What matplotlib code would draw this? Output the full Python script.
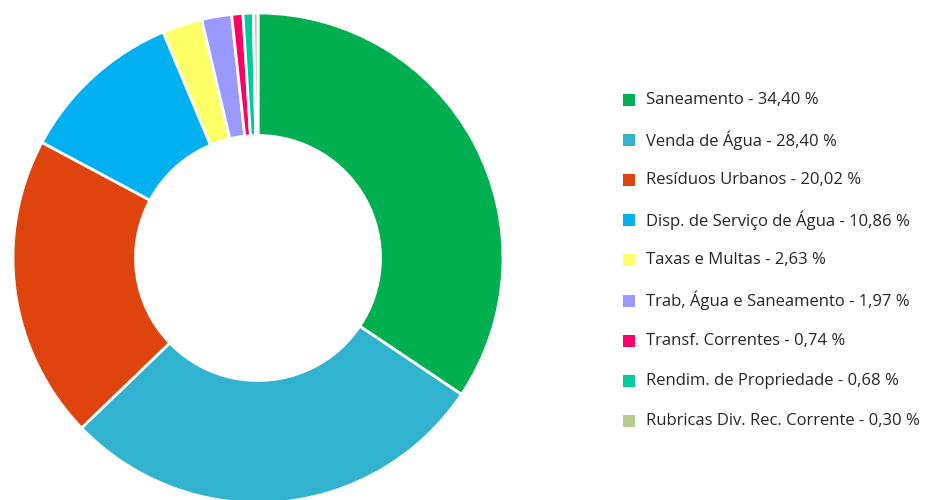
import matplotlib
matplotlib.use("Agg")
import matplotlib.pyplot as plt
from matplotlib.patches import Rectangle

plt.rcParams['font.family'] = ['Open Sans', 'DejaVu Sans']

# receita por rubrica (%)
categories = ["Saneamento", "Venda de Água", "Resíduos Urbanos",
              "Disp. de Serviço de Água", "Taxas e Multas",
              "Trab, Água e Saneamento", "Transf. Correntes",
              "Rendim. de Propriedade", "Rubricas Div. Rec. Corrente"]
values = [34.40, 28.40, 20.02, 10.86, 2.63, 1.97, 0.74, 0.68, 0.30]
colors = ["#00B050", "#31B2CE", "#E0440E", "#00B0F0", "#FFFF66",
          "#9999FF", "#FF0066", "#00CC99", "#B5CC8E"]

fig = plt.figure(figsize=(9.3, 5), dpi=100)

ax = fig.add_axes([13/930, -3/500, 490/930, 490/500])
ax.pie(values, colors=colors, startangle=90, counterclock=False, radius=1,
       wedgeprops=dict(width=0.5, edgecolor="white", linewidth=2))
ax.set_xlim(-1, 1)
ax.set_ylim(-1, 1)
ax.set_aspect("equal")
ax.axis("off")

# legenda
y0 = 100
step = 40.1
for i, (cat, val, col) in enumerate(zip(categories, values, colors)):
    y = y0 + i * step
    fig.patches.append(Rectangle((623/930, 1 - (y + 6)/500), 12/930, 12/500,
                                 transform=fig.transFigure, facecolor=col,
                                 edgecolor="none"))
    pct = f"{val:.2f}".replace(".", ",")
    fig.text(646/930, 1 - y/500, f"{cat} - {pct} %", fontsize=12,
             color="#262626", va="center", ha="left")

fig.savefig("out.png", dpi=100, facecolor="white")
